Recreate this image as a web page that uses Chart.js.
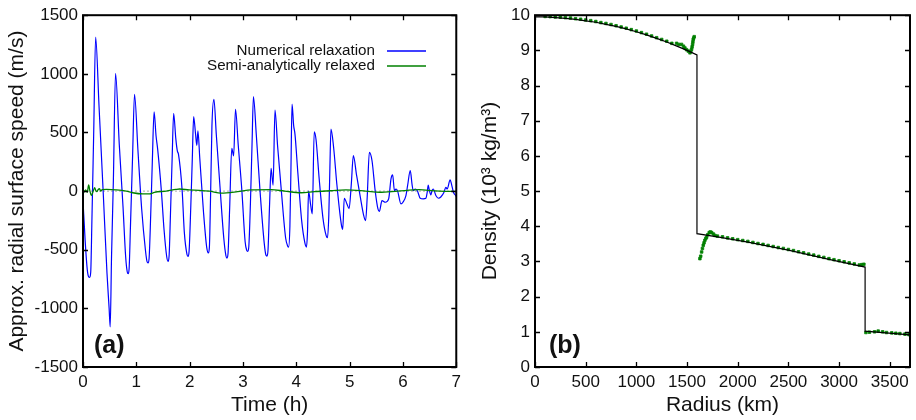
<!DOCTYPE html>
<html>
<head>
<meta charset="utf-8">
<script src="https://cdn.jsdelivr.net/npm/chart.js@4.4.0/dist/chart.umd.min.js"></script>
<style>
  body { margin: 0; background: #fff; }
  #wrap { position: relative; width: 916px; height: 420px; }
  canvas { position: absolute; top: 0; }
  #speedChart { left: 0; }
  #densChart { left: 458px; }
</style>
</head>
<body>
<div id="wrap">
  <canvas id="speedChart" width="466" height="420"></canvas>
  <canvas id="densChart" width="458" height="420"></canvas>
</div>
<script>
// ---------- panel (a) : surface speed ----------
const timeNum = [0.00,0.04,0.08,0.105,0.125,0.145,0.165,0.20,0.237,0.30,0.38,0.45,0.49,0.51,0.535,0.57,0.61,0.68,0.75,0.80,0.83,0.847,0.865,0.89,0.93,0.966,
  1.03,1.10,1.17,1.20,1.22,1.24,1.27,1.30,1.333,1.37,1.40,1.47,1.52,1.57,1.595,1.615,1.64,1.67,1.70,1.74,1.77,1.79,1.86,1.90,1.95,1.97,1.99,
  2.02,2.05,2.075,2.11,2.135,2.155,2.19,2.26,2.32,2.35,2.37,2.39,2.418,2.455,2.50,2.57,2.64,2.68,2.70,2.72,2.75,2.79,2.825,2.86,2.91,2.98,
  3.04,3.07,3.09,3.11,3.14,3.17,3.196,3.25,3.32,3.40,3.43,3.45,3.47,3.50,3.527,3.565,3.60,3.65,3.72,3.80,3.84,3.856,3.88,3.90,3.92,3.95,3.975,
  4.03,4.10,4.16,4.19,4.21,4.23,4.27,4.30,4.336,4.37,4.43,4.50,4.56,4.585,4.61,4.63,4.65,4.70,4.76,4.82,4.855,4.87,4.90,4.95,4.99,
  5.03,5.07,5.13,5.20,5.26,5.30,5.33,5.37,5.42,5.48,5.53,5.557,5.607,5.67,5.732,5.776,5.807,5.84,5.869,5.90,5.963,
  6.00,6.056,6.087,6.137,6.17,6.193,6.23,6.27,6.324,6.38,6.43,6.455,6.474,6.49,6.523,6.545,6.567,6.62,6.667,6.71,6.77,6.804,6.83,6.885,6.91,6.947,6.99,7.0];
const speedNum = [-80,-420,-670,-730,-735,-690,-300,480,1313,730,-20,-700,-1000,-1157,-560,100,1004,400,-130,-560,-690,-705,-660,-300,300,826,
  350,-150,-500,-600,-613,-570,-200,250,676,470,358,0,-330,-560,-599,-550,-200,250,664,450,340,316,0,-350,-540,-557,-510,
  -150,280,636,490,390,514,280,-180,-480,-528,-480,-100,557,783,480,30,-400,-550,-571,-530,-150,364,300,698,400,0,
  -430,-505,-514,-470,-100,400,806,480,0,-450,-545,-554,-500,-100,194,50,690,380,0,-400,-470,-477,-300,200,741,560,486,
  150,-250,-440,-477,-350,0,-120,-194,506,440,100,-230,-380,-398,-200,200,528,372,60,-200,-310,-327,-61,-110,-150,
  50,302,137,-50,-200,-251,-50,330,259,0,-150,-174,-81,-95,-66,104,138,4,18,0,-109,
  -95,-38,46,174,60,3,18,3,-61,-66,-61,-10,52,18,-32,3,18,-40,-61,-50,-10,33,18,95,60,-10,-38,-45];

const timeSemi = [0,0.05,0.08,0.106,0.13,0.156,0.19,0.218,0.24,0.26,0.285,0.31,0.335,0.36,0.44,0.62,0.81,0.93,1.12,1.25,1.34,1.56,1.74,1.81,1.99,2.18,
  2.37,2.59,2.90,3.15,3.53,3.78,4.09,4.34,4.65,4.93,5.30,5.56,5.90,6.30,6.60,6.90,7.0];
const speedSemi = [-24,10,-10,52,0,-38,-2,29,5,-5,14,20,0,12,14,10,0,-14,-24,-24,-10,0,14,18,10,7,
  0,-17,-5,10,12,0,-14,-5,3,10,0,-10,0,12,2,-3,-3];

const timeTicks = [0, 1, 2, 3, 4, 5, 6, 7];
const speedTicks = [-1500, -1000, -500, 0, 500, 1000, 1500];

// ---------- panel (b) : density profile ----------
const radiusLine = [0,100,200,300,400,500,600,700,800,900,1000,1100,1200,1300,1400,1500,1598,1598,1800,2100,2500,2900,3257,3257,3700];
const densLine = [9.95,9.95,9.93,9.91,9.88,9.84,9.80,9.74,9.68,9.61,9.53,9.44,9.34,9.24,9.12,9.00,8.87,3.79,3.70,3.55,3.32,3.06,2.84,1.02,0.915];

const radiusSemi = [100,150,200,250,300,350,400,450,500,550,600,650,700,750,800,850,900,950,1000,1050,1100,1150,1200,1250,1300,1350,
  1397,1420,1446,1465,1479,1495,1512,1529,1538,1545,1550,1555,1558,1561,1566,1571,
  1627,1635,1644,1652,1660,1668,1676,1685,1693,1705,1719,1730,1743,1760,1775,
  1800,1850,1900,1950,2000,2050,2100,2150,2200,2250,2300,2350,2400,2450,2500,2550,2600,2650,2700,2750,2800,2850,2900,2950,3000,3050,3100,3150,3200,3225,3245,
  3265,3300,3350,3386,3430,3468,3520,3560,3600,3650,3690];
const densSemi = [9.965,9.96,9.95,9.945,9.93,9.92,9.90,9.885,9.865,9.845,9.82,9.79,9.765,9.735,9.70,9.665,9.63,9.59,9.55,9.505,9.46,9.41,9.36,9.31,9.26,9.20,
  9.20,9.17,9.17,9.12,9.07,9.02,8.98,8.93,8.97,9.03,9.10,9.17,9.24,9.31,9.35,9.39,
  3.08,3.15,3.27,3.37,3.46,3.53,3.60,3.65,3.69,3.76,3.82,3.84,3.82,3.78,3.74,
  3.72,3.70,3.67,3.645,3.62,3.595,3.57,3.54,3.51,3.485,3.455,3.425,3.395,3.37,3.34,3.31,3.275,3.245,3.21,3.18,3.145,3.115,3.08,3.05,3.02,2.99,2.96,2.93,2.90,2.91,2.92,
  0.98,0.99,1.00,1.02,1.00,0.98,0.97,0.96,0.95,0.935,0.92];

const radiusTicks = [0, 500, 1000, 1500, 2000, 2500, 3000, 3500];
const densTicks = [0, 1, 2, 3, 4, 5, 6, 7, 8, 9, 10];

const BLUE = "rgb(0,0,255)";
const GREEN = "rgb(0,128,0)";
const FONT = "'Liberation Sans', Arial, Helvetica, sans-serif";

Chart.defaults.font.family = FONT;
Chart.defaults.color = "#111";

const pts = (xs, ys) => xs.map((x, i) => ({ x, y: ys[i] }));
const fixTicks = list => s => { s.ticks = list.map(v => ({ value: v })); };

// frame, inward ticks, panel label and gnuplot-like legend
const framePlugin = {
  id: "frame",
  afterDatasetsDraw(chart, args, opts) {
    const { ctx, chartArea: a, scales: { x, y } } = chart;
    ctx.save();
    ctx.strokeStyle = "#000";
    ctx.lineWidth = 1.3;
    ctx.beginPath();
    x.ticks.forEach(t => {
      const px = Math.round(x.getPixelForValue(t.value)) + 0.5;
      ctx.moveTo(px, a.bottom); ctx.lineTo(px, a.bottom - 5);
      ctx.moveTo(px, a.top); ctx.lineTo(px, a.top + 5);
    });
    y.ticks.forEach(t => {
      const py = Math.round(y.getPixelForValue(t.value)) + 0.5;
      ctx.moveTo(a.left, py); ctx.lineTo(a.left + 5, py);
      ctx.moveTo(a.right, py); ctx.lineTo(a.right - 5, py);
    });
    ctx.stroke();
    ctx.lineWidth = 2;
    ctx.strokeRect(a.left, a.top, a.right - a.left, a.bottom - a.top);

    ctx.fillStyle = "#111";
    ctx.font = "bold 25px " + FONT;
    ctx.textAlign = "left";
    ctx.textBaseline = "alphabetic";
    ctx.fillText(opts.label, a.left + opts.labelDx, a.bottom - 14);

    if (opts.legend) {
      ctx.font = "15.2px " + FONT;
      ctx.textAlign = "right";
      ctx.textBaseline = "middle";
      opts.legend.forEach((idx, row) => {
        const ds = chart.data.datasets[idx];
        const yy = 51 + row * 15;
        ctx.fillText(ds.label, 375, yy);
        ctx.strokeStyle = ds.borderColor;
        ctx.lineWidth = 1.3;
        ctx.beginPath();
        ctx.moveTo(387, yy); ctx.lineTo(426, yy);
        ctx.stroke();
      });
    }
    ctx.restore();
  }
};

function axisFont(size) { return { size, family: FONT }; }
const noGrid = { display: false, drawTicks: false, tickLength: 0 };

new Chart(document.getElementById("speedChart"), {
  type: "scatter",
  data: {
    datasets: [
      { label: "Numerical relaxation", data: pts(timeNum, speedNum), showLine: true,
        borderColor: BLUE, borderWidth: 1.2, pointRadius: 0, cubicInterpolationMode: "monotone", order: 1 },
      { label: "Semi-analytically relaxed", data: pts(timeSemi, speedSemi), showLine: true,
        borderColor: GREEN, borderWidth: 1.3, pointRadius: 0, cubicInterpolationMode: "monotone", order: 0 },
      { label: "zero", data: pts([0, 7], [0, 0]), showLine: true,
        borderColor: "#aaa", borderWidth: 1, borderDash: [2, 2], pointRadius: 0, order: 2 }
    ]
  },
  options: {
    responsive: false,
    animation: false,
    layout: { padding: { left: 0, right: 9, top: 14, bottom: 0 } },
    plugins: {
      legend: { display: false },
      tooltip: { enabled: false },
      frame: { label: "(a)", labelDx: 11, legend: [0, 1] }
    },
    scales: {
      x: {
        type: "linear", min: 0, max: 7,
        grid: noGrid, border: { display: false },
        afterBuildTicks: fixTicks(timeTicks),
        ticks: { maxRotation: 0, autoSkip: false, padding: 5, font: axisFont(17), color: "#111" },
        title: { display: true, text: "Time (h)", font: axisFont(21), color: "#111", padding: { top: 0, bottom: 2 } },
        afterFit: s => { s.height = 53; }
      },
      y: {
        type: "linear", min: -1500, max: 1500,
        grid: noGrid, border: { display: false },
        afterBuildTicks: fixTicks(speedTicks),
        ticks: { autoSkip: false, padding: 5, font: axisFont(17), color: "#111", callback: v => String(v) },
        title: { display: true, text: "Approx. radial surface speed (m/s)", font: axisFont(21), color: "#111", padding: { top: 5, bottom: 0 } },
        afterFit: s => { s.width = 83; }
      }
    }
  },
  plugins: [framePlugin]
});

new Chart(document.getElementById("densChart"), {
  type: "scatter",
  data: {
    datasets: [
      { label: "Density", data: pts(radiusLine, densLine), showLine: true,
        borderColor: "#000", borderWidth: 1.2, pointRadius: 0, order: 0 },
      { label: "Semi-analytic", data: pts(radiusSemi, densSemi), showLine: false,
        pointStyle: "rect", pointRadius: 1.8, borderWidth: 0.8, borderColor: GREEN, backgroundColor: GREEN, order: 1 }
    ]
  },
  options: {
    responsive: false,
    animation: false,
    layout: { padding: { left: 20, right: 6, top: 14, bottom: 0 } },
    plugins: {
      legend: { display: false },
      tooltip: { enabled: false },
      frame: { label: "(b)", labelDx: 14 }
    },
    scales: {
      x: {
        type: "linear", min: 0, max: 3700,
        grid: noGrid, border: { display: false },
        afterBuildTicks: fixTicks(radiusTicks),
        ticks: { maxRotation: 0, autoSkip: false, padding: 5, font: axisFont(17), color: "#111", callback: v => String(v) },
        title: { display: true, text: "Radius (km)", font: axisFont(21), color: "#111", padding: { top: 0, bottom: 2 } },
        afterFit: s => { s.height = 53; }
      },
      y: {
        type: "linear", min: 0, max: 10,
        grid: noGrid, border: { display: false },
        afterBuildTicks: fixTicks(densTicks),
        ticks: { autoSkip: false, padding: 5, font: axisFont(17), color: "#111" },
        title: { display: true, text: "Density (10³ kg/m³)", font: axisFont(21), color: "#111", padding: { top: 0, bottom: 0 } },
        afterFit: s => { s.width = 57; }
      }
    }
  },
  plugins: [framePlugin]
});
</script>
</body>
</html>
